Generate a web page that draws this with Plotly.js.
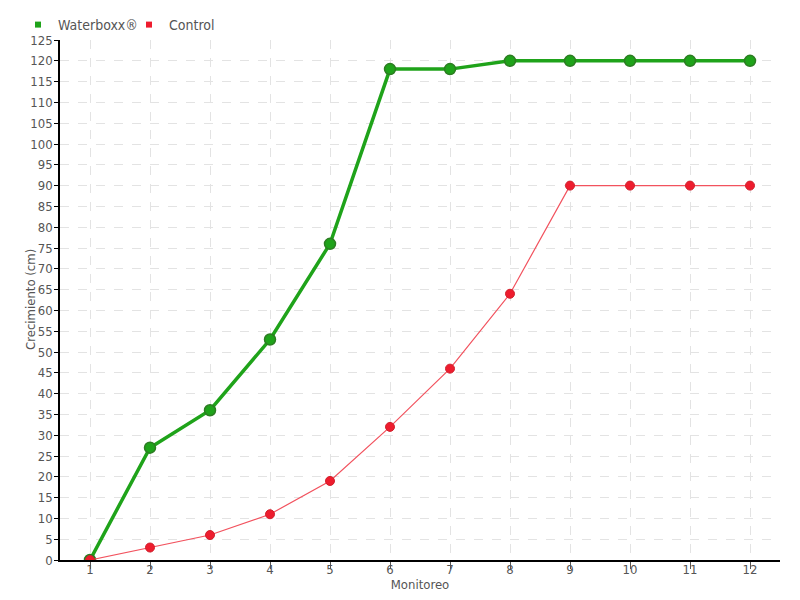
<!DOCTYPE html>
<html><head><meta charset="utf-8">
<script src="https://cdn.plot.ly/plotly-3.0.1.min.js"></script>
<style>body{margin:0}#c{width:800px;height:600px}</style>
</head><body><div id="c"></div>
<script>
const monitoreo = [1,2,3,4,5,6,7,8,9,10,11,12];
const waterboxx = [0,27,36,53,76,118,118,120,120,120,120,120];
const control = [0,3,6,11,19,32,46,64,90,90,90,90];
const seriesNames = ['Waterboxx®','Control'];
const yTicks = [];
for (let v = 0; v <= 125; v += 5) yTicks.push(v);

const green = '#1fa31a', red = '#ee1c2e';
const fontFam = '"DejaVu Sans Condensed","Liberation Sans Narrow",sans-serif';

const traces = [
  {x: monitoreo, y: waterboxx, mode: 'lines+markers', showlegend: false,
   line: {color: green, width: 3.5}, marker: {color: green, size: 11, line: {color: '#2c7d22', width: 1.5}}},
  {x: monitoreo, y: control, mode: 'lines+markers', showlegend: false,
   line: {color: '#f2525e', width: 1.2}, marker: {color: red, size: 9, line: {color: '#d0202c', width: 1}}},
  {x: [null], y: [null], mode: 'markers', name: seriesNames[0], marker: {symbol: 'square', color: green, size: 6}},
  {x: [null], y: [null], mode: 'markers', name: seriesNames[1], marker: {symbol: 'square', color: red, size: 6}}
];

const layout = {
  width: 800, height: 600,
  margin: {l: 60, r: 20, t: 40, b: 40, autoexpand: false},
  paper_bgcolor: '#fff', plot_bgcolor: '#fff',
  font: {family: fontFam, color: '#555', size: 13},
  showlegend: true,
  legend: {orientation: 'h', x: -42 / 720, xref: 'paper', xanchor: 'left', y: 0.985, yref: 'container', yanchor: 'top',
           font: {size: 14, color: '#555'}, entrywidth: 66, entrywidthmode: 'pixels', bgcolor: 'rgba(0,0,0,0)'},
  xaxis: {range: [0.5, 12.5], tickvals: monitoreo, ticktext: monitoreo.map(String),
          showline: true, linecolor: '#000', linewidth: 1.5, ticks: 'outside', ticklen: 7, tickcolor: '#555',
          ticklabelstandoff: -10,
          showgrid: true, gridcolor: '#e3e3e3', griddash: 'dash', zeroline: false,
          title: {text: 'Monitoreo', standoff: 0, font: {size: 13, color: '#555'}}},
  yaxis: {range: [0, 125], tickvals: yTicks, ticktext: yTicks.map(String),
          showline: true, linecolor: '#000', linewidth: 1.5, ticks: 'outside', ticklen: 4, tickcolor: '#000',
          ticklabelstandoff: -1,
          showgrid: true, gridcolor: '#e3e3e3', griddash: 'dash', zeroline: false,
          title: {text: ''}},
  annotations: [{text: 'Crecimiento (cm)', textangle: -90, xref: 'paper', yref: 'paper',
                 x: -30 / 720, y: 0.5, xanchor: 'center', yanchor: 'middle', showarrow: false,
                 font: {size: 13, color: '#555'}}]
};
Plotly.newPlot('c', traces, layout, {displayModeBar: false});
</script></body></html>
